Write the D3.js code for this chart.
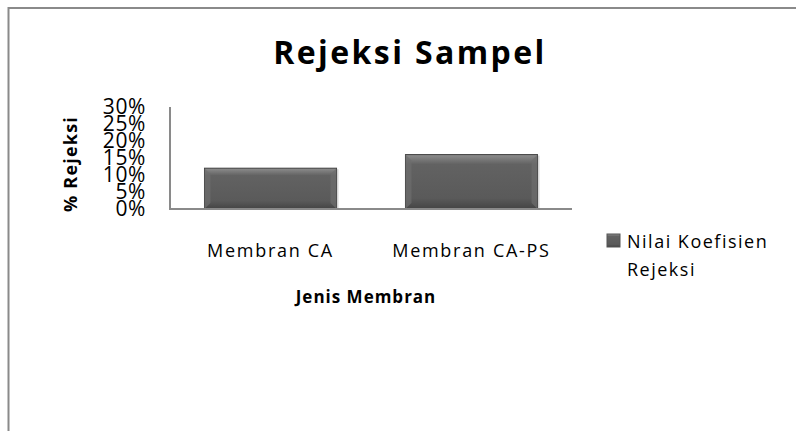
<!DOCTYPE html>
<html>
<head>
<meta charset="utf-8">
<script src="https://cdn.jsdelivr.net/npm/d3@7"></script>
<style>
  body { margin: 0; background: #fff; }
  text { font-family: "Open Sans", sans-serif; fill: #000; }
</style>
</head>
<body>
<div id="chart"></div>
<script>
var categories = ['Membran CA', 'Membran CA-PS'];
var values = [0.12, 0.16];
var tickValues = [0, 0.05, 0.10, 0.15, 0.20, 0.25, 0.30];
var seriesName = ['Nilai Koefisien', 'Rejeksi'];

var width = 796;
var height = 431;

var svg = d3.select('#chart')
    .append('svg')
    .attr('width', width)
    .attr('height', height);

// outer chart frame (runs off the right and bottom edge)
svg.append('rect')
    .attr('x', 8.5)
    .attr('y', 8)
    .attr('width', 900)
    .attr('height', 600)
    .attr('fill', 'none')
    .attr('stroke', '#8a8a8a')
    .attr('stroke-width', 2);

var defs = svg.append('defs');
var grad = defs.append('linearGradient')
    .attr('id', 'barGrad')
    .attr('x1', 0).attr('y1', 0).attr('x2', 0).attr('y2', 1);
grad.append('stop').attr('offset', '0%').attr('stop-color', '#8e8e8e');
grad.append('stop').attr('offset', '18%').attr('stop-color', '#626262');
grad.append('stop').attr('offset', '80%').attr('stop-color', '#5a5a5a');
grad.append('stop').attr('offset', '100%').attr('stop-color', '#444');

var x = d3.scaleBand()
    .domain(categories)
    .range([170, 572])
    .paddingInner(0.343)
    .paddingOuter(0.1716);

var y = d3.scaleLinear()
    .domain([0, 0.30])
    .range([209, 107]);

// bars
var bars = svg.append('g');
bars.selectAll('rect.shadow')
    .data(values)
    .enter()
    .append('rect')
    .attr('class', 'shadow')
    .attr('x', (d, i) => x(categories[i]) + 2)
    .attr('y', d => y(d) + 1)
    .attr('width', x.bandwidth())
    .attr('height', d => y(0) - y(d) - 1)
    .attr('fill', '#d8d8d8');

bars.selectAll('rect.bar')
    .data(values)
    .enter()
    .append('rect')
    .attr('class', 'bar')
    .attr('x', (d, i) => x(categories[i]))
    .attr('y', d => y(d))
    .attr('width', x.bandwidth())
    .attr('height', d => y(0) - y(d))
    .attr('fill', 'url(#barGrad)')
    .attr('stroke', '#3e3e3e')
    .attr('stroke-width', 1);

// bevel corners
bars.selectAll('path.bevel')
    .data(values)
    .enter()
    .append('path')
    .attr('class', 'bevel')
    .attr('d', function(d, i) {
        var x0 = x(categories[i]), x1 = x0 + x.bandwidth();
        var y0 = y(d), y1 = y(0), b = 6;
        return 'M' + x0 + ',' + y0 + 'L' + (x0 + b) + ',' + (y0 + b) + 'L' + (x0 + b) + ',' + (y1 - b) + 'L' + x0 + ',' + y1 + 'Z' +
            'M' + x1 + ',' + y0 + 'L' + (x1 - b) + ',' + (y0 + b) + 'L' + (x1 - b) + ',' + (y1 - b) + 'L' + x1 + ',' + y1 + 'Z';
    })
    .attr('fill', '#6e6e6e')
    .attr('opacity', 0.7);

// axes lines
svg.append('line')
    .attr('x1', 170).attr('x2', 170)
    .attr('y1', y(0.30)).attr('y2', y(0))
    .attr('stroke', '#8a8a8a').attr('stroke-width', 2);
svg.append('line')
    .attr('x1', 169).attr('x2', 572)
    .attr('y1', y(0)).attr('y2', y(0))
    .attr('stroke', '#8a8a8a').attr('stroke-width', 2);

// y tick labels (they overlap in the original too)
svg.append('g')
    .selectAll('text')
    .data(tickValues)
    .enter()
    .append('text')
    .attr('x', 146)
    .attr('y', d => y(d) + 7)
    .attr('text-anchor', 'end')
    .attr('font-size', 21)
    .attr('letter-spacing', 0.6)
    .text(d => d3.format('.0%')(d));

// x category labels
svg.append('g')
    .selectAll('text')
    .data(categories)
    .enter()
    .append('text')
    .attr('x', d => x(d) + x.bandwidth() / 2)
    .attr('y', 257)
    .attr('text-anchor', 'middle')
    .attr('font-size', 18)
    .attr('letter-spacing', 1.7)
    .text(d => d);

// title
svg.append('text')
    .attr('x', 410)
    .attr('y', 64)
    .attr('text-anchor', 'middle')
    .attr('font-size', 32)
    .attr('font-weight', 'bold')
    .attr('letter-spacing', 2.4)
    .text('Rejeksi Sampel');

// axis titles
svg.append('text')
    .attr('x', 366)
    .attr('y', 303)
    .attr('text-anchor', 'middle')
    .attr('font-size', 17)
    .attr('font-weight', 'bold')
    .attr('letter-spacing', 1)
    .text('Jenis Membran');

svg.append('text')
    .attr('transform', 'translate(77,164) rotate(-90)')
    .attr('text-anchor', 'middle')
    .attr('font-size', 18)
    .attr('font-weight', 'bold')
    .attr('letter-spacing', 1.2)
    .text('% Rejeksi');

// legend
svg.append('rect')
    .attr('x', 607)
    .attr('y', 234)
    .attr('width', 13)
    .attr('height', 13)
    .attr('fill', 'url(#barGrad)')
    .attr('stroke', '#555');

svg.append('g')
    .selectAll('text')
    .data(seriesName)
    .enter()
    .append('text')
    .attr('x', 627)
    .attr('y', (d, i) => 248 + i * 28)
    .attr('font-size', 18)
    .attr('letter-spacing', 1.5)
    .text(d => d);
</script>
</body>
</html>
